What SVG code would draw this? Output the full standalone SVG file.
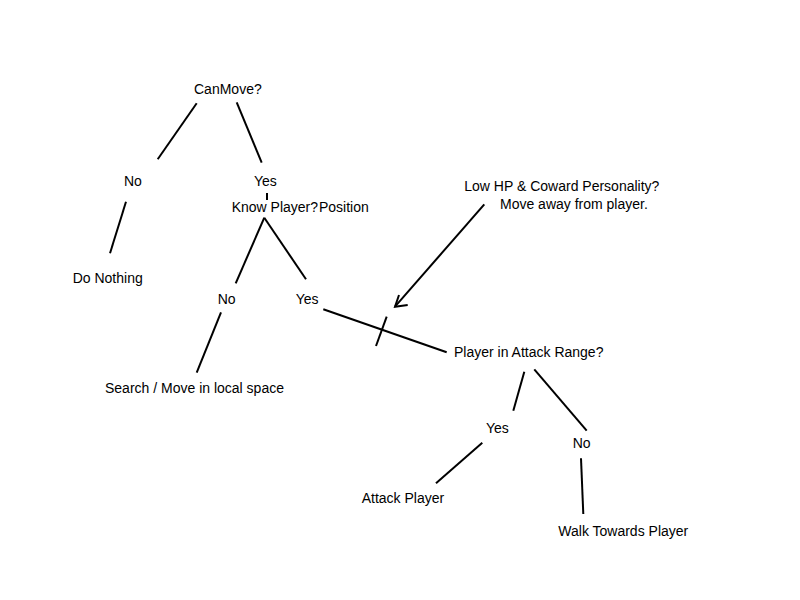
<svg xmlns="http://www.w3.org/2000/svg" width="800" height="600" viewBox="0 0 800 600">
<style>
text{font-family:"Liberation Sans",Arial,sans-serif;font-size:14px;fill:#000}
.c line,.c polyline{stroke:#000;stroke-width:2;fill:none;stroke-linecap:butt}
</style>
<rect width="800" height="600" fill="#fff"/>
<g class="c" id="connectors">
<line x1="196.7" y1="103.3" x2="157.7" y2="159.3"/>
<line x1="236.7" y1="102.3" x2="261.7" y2="162.7"/>
<line x1="267" y1="193" x2="267" y2="200"/>
<line x1="126" y1="201.7" x2="110" y2="253.3"/>
<line x1="264.3" y1="217.7" x2="235.7" y2="283.3"/>
<line x1="264.3" y1="217.7" x2="306" y2="279.3"/>
<line x1="221" y1="312.3" x2="196.7" y2="372.7"/>
<line x1="323.3" y1="309.3" x2="446.7" y2="352.3"/>
<line x1="386.7" y1="316.7" x2="376" y2="346"/>
<line x1="484.3" y1="204.3" x2="395" y2="306.7"/>
<polyline points="399,295 395,306.7 407.7,305"/>
<line x1="524.3" y1="371.7" x2="513.3" y2="410.7"/>
<line x1="534.3" y1="369.3" x2="586.7" y2="430.7"/>
<line x1="482.3" y1="442.7" x2="436" y2="483.3"/>
<line x1="581" y1="458.3" x2="583.3" y2="514"/>
</g>
<g id="canmove"><text x="194" y="94">CanMove?</text></g>
<g id="no1"><text x="124" y="186">No</text></g>
<g id="yes1"><text x="254" y="186">Yes</text></g>
<g id="knowplayer"><text x="231.7" y="212">Know Player?</text><text x="319" y="212">Position</text></g>
<g id="donothing"><text x="72.7" y="283">Do Nothing</text></g>
<g id="no2"><text x="217.7" y="304.3">No</text></g>
<g id="yes2"><text x="295.7" y="304.3">Yes</text></g>
<g id="search"><text x="105" y="393.3">Search / Move in local space</text></g>
<g id="lowhp"><text x="464.3" y="191">Low HP &amp; Coward Personality?</text><text x="500" y="209">Move away from player.</text></g>
<g id="attackrange"><text x="454" y="356.7">Player in Attack Range?</text></g>
<g id="yes3"><text x="486" y="433.3">Yes</text></g>
<g id="no3"><text x="572.7" y="448.3">No</text></g>
<g id="attack"><text x="361.7" y="503.3">Attack Player</text></g>
<g id="walk"><text x="558.3" y="535.7">Walk Towards Player</text></g>
</svg>
